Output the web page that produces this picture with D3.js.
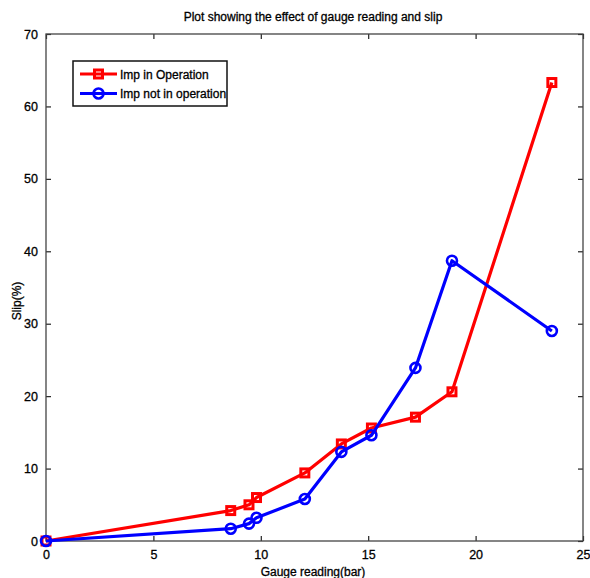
<!DOCTYPE html>
<html>
<meta charset="utf-8">
<script src="https://cdn.jsdelivr.net/npm/d3@7"></script>
<style>
  body { margin: 0; background: #fff; }
  text { font-family: "Liberation Sans", Arial, sans-serif; fill: #000; stroke: #000; stroke-width: 0.3px; }
</style>
<body>
<div id="plot_area"></div>
<script>

// gauge reading (bar) and slip (%)
var gaugeOn  = [0, 8.6, 9.45, 9.8, 12.05, 13.75, 15.15, 17.2, 18.9, 23.55];
var slipOn   = [0, 4.2, 5.0, 6.0, 9.4, 13.4, 15.6, 17.1, 20.6, 63.3];
var gaugeOff = [0, 8.6, 9.45, 9.8, 12.05, 13.75, 15.15, 17.2, 18.9, 23.55];
var slipOff  = [0, 1.7, 2.4, 3.2, 5.8, 12.3, 14.6, 23.9, 38.7, 29.0];
var xTicks = [0, 5, 10, 15, 20, 25];
var yTicks = [0, 10, 20, 30, 40, 50, 60, 70];

var W = 590, H = 578;
var margin = {top: 34, right: 7, bottom: 37, left: 46},
    width = W - margin.left - margin.right,
    height = H - margin.top - margin.bottom;

var svg = d3.select("#plot_area")
  .append("svg")
    .attr("width", W)
    .attr("height", H);

var g = svg.append("g")
    .attr("transform", "translate(" + margin.left + "," + margin.top + ")");

var x = d3.scaleLinear().domain([0, 25]).range([0, width]);
var y = d3.scaleLinear().domain([0, 70]).range([height, 0]);

// matlab style: ticks pointing inside, on all four sides
g.append("g")
  .attr("transform", "translate(0," + height + ")")
  .call(d3.axisBottom(x).tickValues(xTicks).tickSize(-5).tickPadding(9))
  .call(function(a) { a.select(".domain").remove(); });
g.append("g")
  .call(d3.axisTop(x).tickValues(xTicks).tickSize(-5).tickFormat(""))
  .call(function(a) { a.select(".domain").remove(); });
g.append("g")
  .call(d3.axisLeft(y).tickValues(yTicks).tickSize(-5).tickPadding(8))
  .call(function(a) { a.select(".domain").remove(); });
g.append("g")
  .attr("transform", "translate(" + width + ",0)")
  .call(d3.axisRight(y).tickValues(yTicks).tickSize(-5).tickFormat(""))
  .call(function(a) { a.select(".domain").remove(); });

g.selectAll(".tick line").attr("stroke", "#222").attr("stroke-width", 1.2);
g.selectAll(".tick text")
  .style("font-size", "12.5px")
  .style("font-family", "'Liberation Sans', Arial, sans-serif")
  .attr("fill", "#000");

g.append("rect")
  .attr("width", width)
  .attr("height", height)
  .attr("fill", "none")
  .attr("stroke", "#444")
  .attr("stroke-width", 1.3);

var line = d3.line()
  .x(function(d) { return x(d[0]); })
  .y(function(d) { return y(d[1]); });

var series = [
  {name: "Imp in Operation", color: "#ff0000", shape: "square",
   pts: d3.zip(gaugeOn, slipOn)},
  {name: "Imp not in operation", color: "#0000ff", shape: "circle",
   pts: d3.zip(gaugeOff, slipOff)}
];

function marker(sel, s) {
  if (s.shape == "square") {
    sel.append("rect")
      .attr("x", -4).attr("y", -4).attr("width", 8).attr("height", 8)
      .attr("fill", "none").attr("stroke", s.color).attr("stroke-width", 3);
  } else {
    sel.append("circle")
      .attr("r", 5)
      .attr("fill", "none").attr("stroke", s.color).attr("stroke-width", 2.6);
  }
}

series.forEach(function(s) {
  g.append("path")
    .datum(s.pts)
    .attr("d", line)
    .attr("fill", "none")
    .attr("stroke", s.color)
    .attr("stroke-width", 3.2)
    .attr("stroke-linejoin", "round");
  g.selectAll(".m-" + s.shape)
    .data(s.pts)
    .enter()
    .append("g")
      .attr("class", "m-" + s.shape)
      .attr("transform", function(d) { return "translate(" + x(d[0]) + "," + y(d[1]) + ")"; })
      .each(function() { marker(d3.select(this), s); });
});

// legend
var leg = svg.append("g").attr("transform", "translate(73,61)");
leg.append("rect")
  .attr("width", 154).attr("height", 45)
  .attr("fill", "#fff").attr("stroke", "#111").attr("stroke-width", 1.5);
series.forEach(function(s, i) {
  var ly = 13 + i * 19.5;
  leg.append("line")
    .attr("x1", 7).attr("x2", 44).attr("y1", ly).attr("y2", ly)
    .attr("stroke", s.color).attr("stroke-width", 3.2);
  var m = leg.append("g").attr("transform", "translate(25.5," + ly + ")");
  marker(m, s);
  leg.append("text")
    .attr("x", 47).attr("y", ly + 4.5)
    .style("font-size", "12px")
    .text(s.name);
});

// title and axis labels
svg.append("text")
  .attr("x", 313).attr("y", 21)
  .attr("text-anchor", "middle")
  .style("font-size", "12px")
  .text("Plot showing the effect of gauge reading and slip");

svg.append("text")
  .attr("x", 313).attr("y", 576)
  .attr("text-anchor", "middle")
  .style("font-size", "12px")
  .text("Gauge reading(bar)");

svg.append("text")
  .attr("transform", "translate(21,301) rotate(-90)")
  .attr("text-anchor", "middle")
  .style("font-size", "12px")
  .text("Slip(%)");

</script>
</body>
</html>
